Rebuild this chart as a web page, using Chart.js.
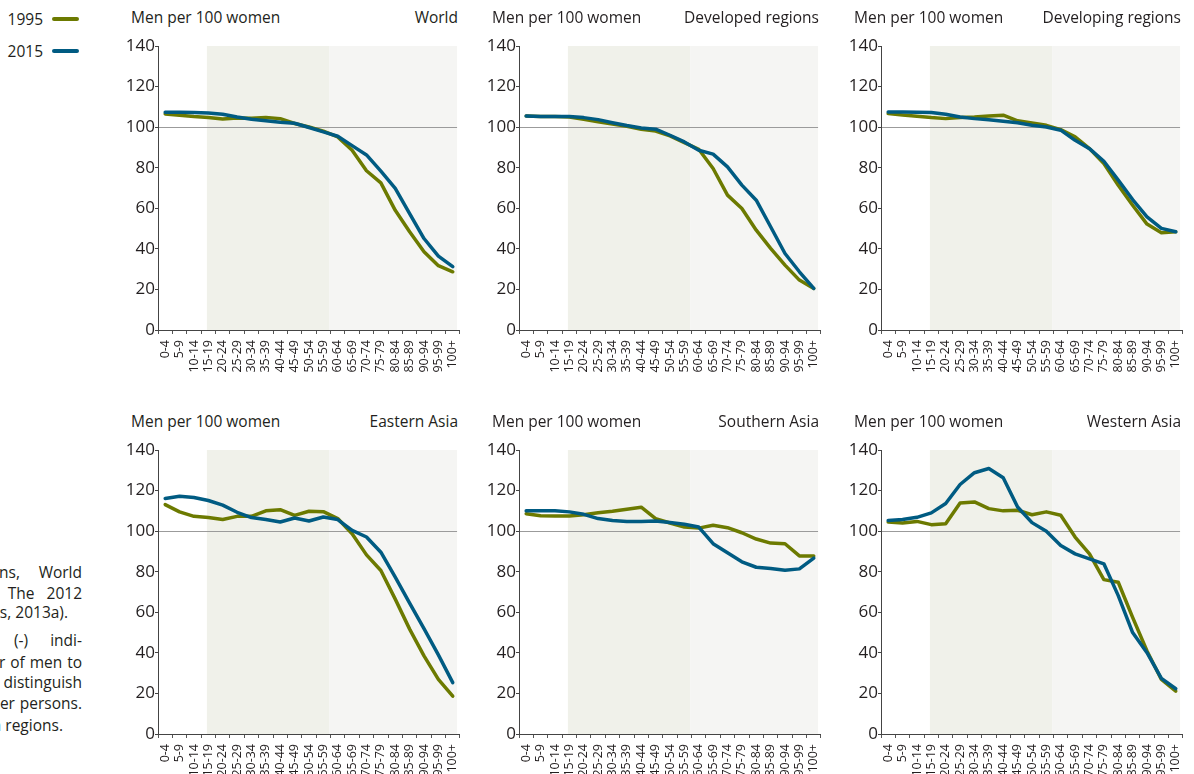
<!DOCTYPE html>
<html>
<head>
<meta charset="utf-8">
<script src="https://cdn.jsdelivr.net/npm/chart.js@4.4.1/dist/chart.umd.min.js"></script>
<style>
  body { margin: 0; width: 1194px; height: 774px; overflow: hidden; background: #fff; position: relative;
         font-family: 'Open Sans', sans-serif; color: #231f20; }
  canvas { position: absolute; }
  .lbl { position: absolute; font-size: 15.5px; white-space: nowrap; line-height: 18px; }
  .note { position: absolute; font-size: 15.5px; white-space: nowrap; line-height: 20px; }
  .key { position: absolute; height: 4px; width: 27px; border-radius: 2px; }
</style>
</head>
<body>
<div class="lbl" style="right:1151px; top:10px;">1995</div>
<div class="key" style="left:52px; top:17px; background:#6c7a00;"></div>
<div class="lbl" style="right:1151px; top:42px;">2015</div>
<div class="key" style="left:52px; top:49px; background:#005b82;"></div>

<!-- clipped paragraph at the left edge of the page: data-l / data-r = span of the line -->
<div class="note" data-l="-1" data-r="82" style="top:562px;">ns, World</div>
<div class="note" data-r="82" style="top:583px; word-spacing:8px;">The 2012</div>
<div class="note" data-r="68" style="top:602px;">ns, 2013a).</div>
<div class="note" data-r="82" style="top:630px; word-spacing:18px;">(-) indi-</div>
<div class="note" data-l="-1" data-r="82" style="top:652px;">r of men to</div>
<div class="note" data-r="82" style="top:672px;">distinguish</div>
<div class="note" data-l="-4" data-r="82" style="top:693px;">ler persons.</div>
<div class="note" data-r="63" style="top:715px;">n regions.</div>

<script>
// age groups on the x axis
const ageGroups = ['0-4','5-9','10-14','15-19','20-24','25-29','30-34','35-39','40-44','45-49',
  '50-54','55-59','60-64','65-69','70-74','75-79','80-84','85-89','90-94','95-99','100+'];
const yTicks = [0, 20, 40, 60, 80, 100, 120, 140];
const refLine = 100;

// men per 100 women
const world1995 = [106.5,105.9,105.2,104.7,104.0,104.5,104.4,104.7,104.2,101.8,100.1,98.0,95.2,88.6,78.5,72.5,59.0,48.4,38.6,31.7,28.7];
const world2015 = [107.3,107.3,107.2,107.0,106.4,105.0,103.9,103.2,102.4,101.9,99.8,97.7,95.5,90.9,86.3,78.3,69.8,57.4,45.1,36.4,31.2];
const developed1995 = [105.5,105.2,105.2,105.0,103.9,102.7,101.6,100.4,99.0,98.1,95.7,92.4,89.1,79.6,66.5,59.9,49.2,40.2,32.0,24.6,20.5];
const developed2015 = [105.5,105.2,105.2,105.2,104.7,103.7,102.2,100.8,99.6,99.0,96.0,92.7,88.6,86.7,80.4,71.4,64.0,50.9,37.7,28.7,20.5];
const developing1995 = [106.7,106.0,105.4,104.7,104.2,104.7,105.0,105.5,105.9,103.1,102.1,100.9,98.8,95.2,89.4,82.1,71.4,61.5,52.2,47.9,48.4];
const developing2015 = [107.5,107.5,107.3,107.2,106.4,105.0,104.2,103.7,102.9,102.2,100.9,100.1,98.5,93.5,89.4,83.2,73.9,64.3,55.8,50.1,48.4];
const easternAsia1995 = [113.1,109.5,107.3,106.7,105.7,107.3,107.3,110.0,110.6,107.8,109.8,109.6,106.2,98.7,88.3,80.6,66.5,51.7,38.5,26.9,18.7];
const easternAsia2015 = [116.1,117.2,116.6,115.1,112.8,109.3,106.7,105.7,104.5,106.5,105.0,107.0,105.7,100.4,97.1,89.6,77.3,64.5,52.0,39.0,25.3];
const southernAsia1995 = [108.6,107.6,107.5,107.5,108.1,109.1,109.8,110.8,111.8,106.2,104.0,102.0,101.5,102.9,101.7,99.2,96.1,94.1,93.8,87.8,87.7];
const southernAsia2015 = [110.0,110.1,110.0,109.5,108.3,106.2,105.2,104.7,104.8,105.0,104.3,103.4,102.0,93.8,89.3,84.9,82.2,81.6,80.7,81.4,86.7];
const westernAsia1995 = [104.5,104.0,104.8,103.2,103.7,113.9,114.4,111.1,110.0,110.3,108.1,109.5,107.8,97.1,88.8,76.1,74.8,57.5,40.9,26.9,21.1];
const westernAsia2015 = [105.3,105.7,106.8,109.0,113.6,123.0,128.8,130.9,126.3,111.9,104.2,99.9,92.9,88.8,86.3,83.9,68.2,50.0,40.1,27.4,22.3];

const panels = [
  { name: 'World',              a: world1995,        b: world2015,        left: 158, top: 46 },
  { name: 'Developed regions',  a: developed1995,    b: developed2015,    left: 519, top: 46 },
  { name: 'Developing regions', a: developing1995,   b: developing2015,   left: 881, top: 46 },
  { name: 'Eastern Asia',       a: easternAsia1995,  b: easternAsia2015,  left: 158, top: 450 },
  { name: 'Southern Asia',      a: southernAsia1995, b: southernAsia2015, left: 519, top: 450 },
  { name: 'Western Asia',       a: westernAsia1995,  b: westernAsia2015,  left: 881, top: 450 }
];

// justify the cut-off note lines between their edges
document.querySelectorAll('.note').forEach(function (el) {
  const r = +el.dataset.r;
  el.style.right = (1194 - r) + 'px';
  if (el.dataset.l === undefined) return;
  const gaps = el.textContent.split(' ').length - 1;
  const extra = (r - +el.dataset.l) - el.getBoundingClientRect().width;
  if (gaps > 0 && extra > 0) el.style.wordSpacing = (extra / gaps) + 'px';
});

const AREA_W = 306, AREA_H = 284;
const PAD_L = 46, PAD_T = 14, PAD_R = 10, PAD_B = 56;
// shaded bands, in category widths from the y axis
const BAND_A = 3.4, BAND_B = 11.9, BAND_C = 20.8;

const backdrop = {
  id: 'backdrop',
  beforeDraw(chart) {
    const ctx = chart.ctx, x = chart.scales.x, y = chart.scales.y;
    const unit = (x.right - x.left) / ageGroups.length;
    const x0 = x.left + unit * BAND_A, x1 = x.left + unit * BAND_B, x2 = x.left + unit * BAND_C;
    ctx.save();
    ctx.fillStyle = '#f0f1ea';
    ctx.fillRect(x0, y.top, x1 - x0, y.bottom - y.top);
    ctx.fillStyle = '#f5f5f3';
    ctx.fillRect(x1, y.top, x2 - x1, y.bottom - y.top);
    const yy = Math.round(y.getPixelForValue(refLine)) + 0.5;
    ctx.strokeStyle = '#9b9b9b';
    ctx.lineWidth = 1;
    ctx.beginPath();
    ctx.moveTo(x.left, yy);
    ctx.lineTo(x2, yy);
    ctx.stroke();
    ctx.restore();
  }
};

panels.forEach(function (p) {
  const cv = document.createElement('canvas');
  const w = AREA_W + PAD_L + PAD_R, h = AREA_H + PAD_T + PAD_B;
  cv.width = w; cv.height = h;
  cv.style.left = (p.left - PAD_L) + 'px';
  cv.style.top = (p.top - PAD_T) + 'px';
  document.body.appendChild(cv);

  const t1 = document.createElement('div');
  t1.className = 'lbl';
  t1.textContent = 'Men per 100 women';
  t1.style.left = (p.left - 27) + 'px';
  t1.style.top = (p.top - 38) + 'px';
  document.body.appendChild(t1);
  const t2 = document.createElement('div');
  t2.className = 'lbl';
  t2.textContent = p.name;
  t2.style.right = (1194 - p.left - 300) + 'px';
  t2.style.top = (p.top - 38) + 'px';
  document.body.appendChild(t2);

  new Chart(cv, {
    type: 'line',
    data: {
      labels: ageGroups,
      datasets: [
        { label: '1995', data: p.a, borderColor: '#6c7a00', order: 1 },
        { label: '2015', data: p.b, borderColor: '#005b82', order: 0 }
      ]
    },
    options: {
      responsive: false,
      animation: false,
      layout: { padding: { top: PAD_T, right: PAD_R, left: 0, bottom: 0 } },
      elements: {
        line: { borderWidth: 3.5, tension: 0, borderJoinStyle: 'round', borderCapStyle: 'round' },
        point: { radius: 0 }
      },
      plugins: { legend: { display: false }, tooltip: { enabled: false } },
      scales: {
        x: {
          offset: true,
          grid: { offset: true, drawOnChartArea: false, drawTicks: true, tickLength: 4, color: '#555' },
          border: { color: '#444', width: 1 },
          ticks: { autoSkip: false, minRotation: 90, maxRotation: 90, padding: 6,
                   color: '#231f20', font: { family: 'Open Sans', size: 12.5 } },
          afterFit(s) { s.height = PAD_B; }
        },
        y: {
          min: 0, max: 140,
          afterBuildTicks(s) { s.ticks = yTicks.map(v => ({ value: v })); },
          grid: { drawOnChartArea: false, drawTicks: true, tickLength: 3, color: '#444' },
          border: { color: '#444', width: 1 },
          ticks: { padding: 0, color: '#231f20', font: { family: 'Open Sans', size: 17 } },
          afterFit(s) { s.width = PAD_L; }
        }
      }
    },
    plugins: [backdrop]
  });
});
</script>
</body>
</html>
